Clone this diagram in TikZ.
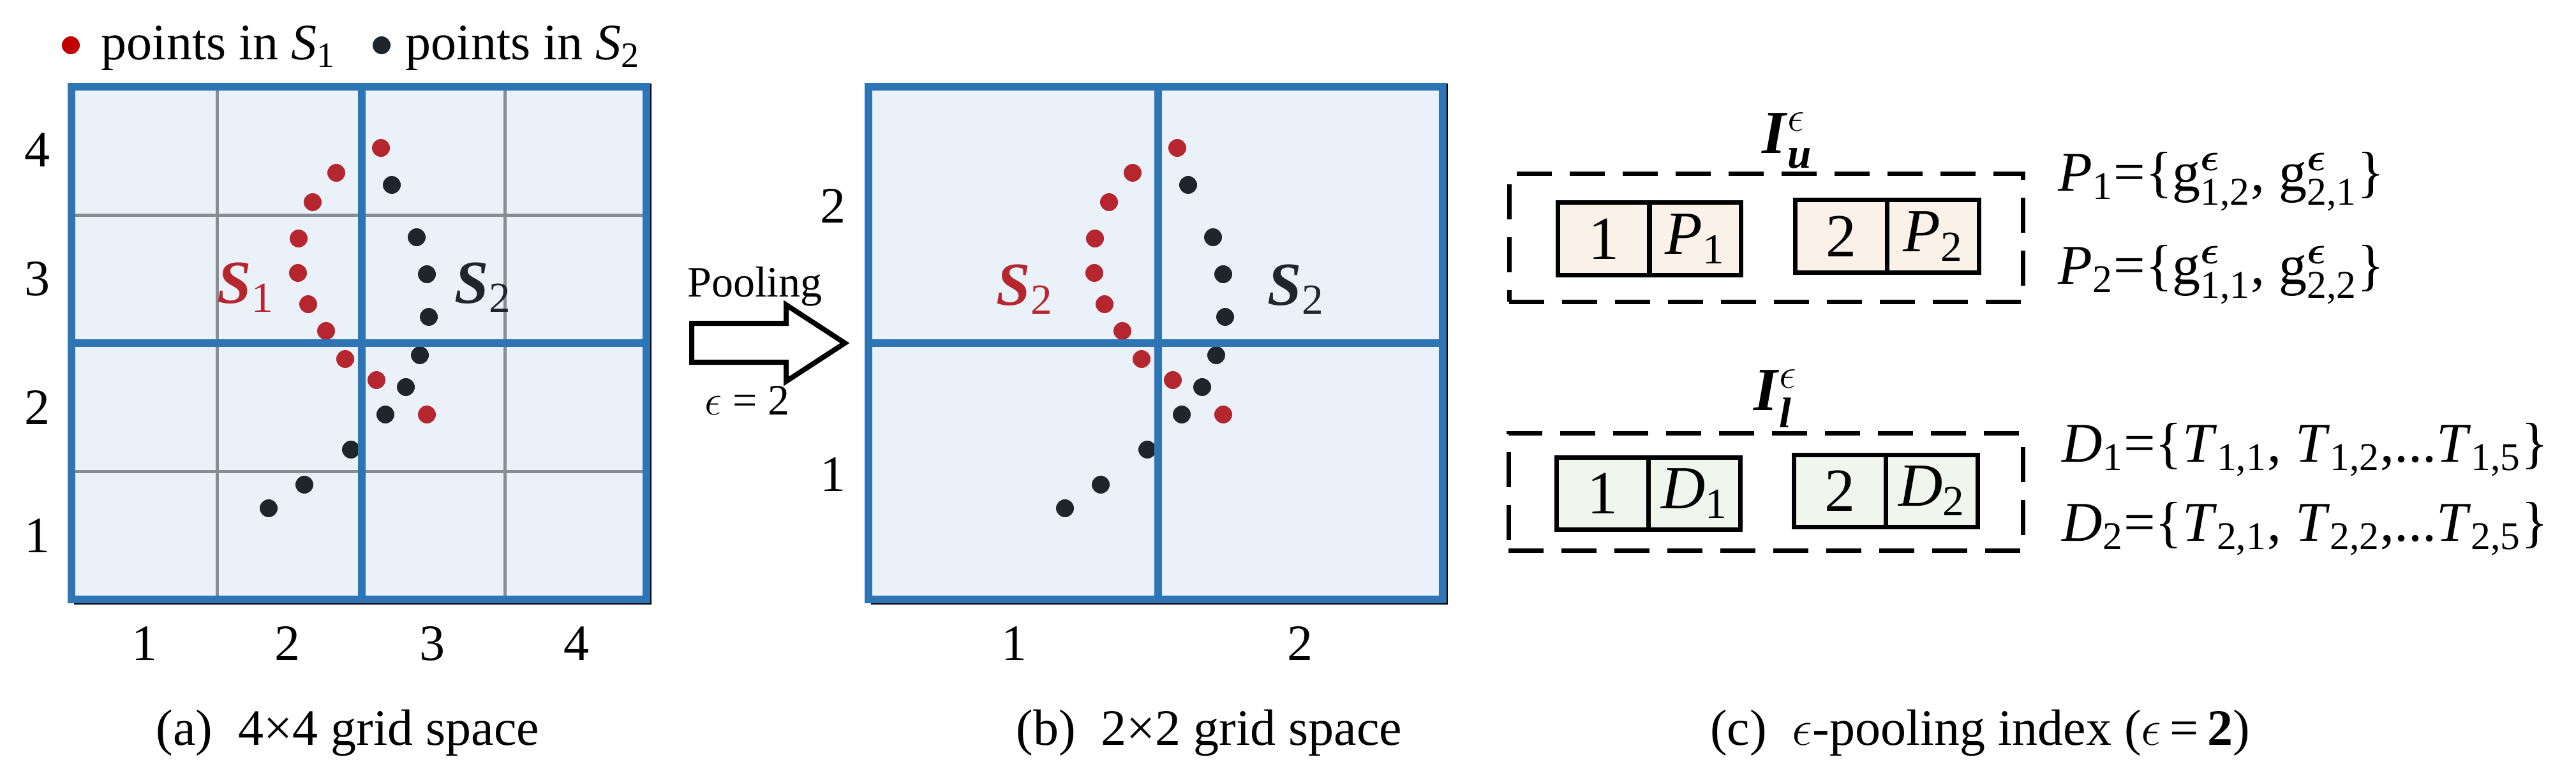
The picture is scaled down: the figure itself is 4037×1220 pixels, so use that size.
\RequirePackage{fix-cm}
\documentclass[tikz,border=0pt]{standalone}
\usepackage{amsmath}
\usepackage{fontspec}
\setmainfont{Liberation Serif}
\definecolor{gblue}{RGB}{46,117,182}
\definecolor{gfill}{RGB}{234,241,249}
\definecolor{ggray}{RGB}{135,141,148}
\definecolor{pred}{RGB}{181,38,46}
\definecolor{pblack}{RGB}{30,37,45}
\definecolor{lred}{RGB}{192,0,0}
\definecolor{peach}{RGB}{250,241,232}
\definecolor{mint}{RGB}{240,246,238}
\newcommand{\redpts}{597/232,527/271,490/317,468/374,467/428,483/477,511/519,541/563,590/596,669/650}
\newcommand{\blkpts}{614/290,653/372,669/430,672/497,658/557,636/607,604/650,550/705,477/760,421/797}
\newcommand{\epsb}{\boldsymbol{\epsilon}}
\begin{document}
\begin{tikzpicture}[x=0.25pt,y=-0.25pt,
  t20/.style={font=\fontsize{20}{24}\selectfont, inner sep=0pt},
  t17/.style={font=\fontsize{17}{20}\selectfont, inner sep=0pt},
  t22/.style={font=\fontsize{22}{26}\selectfont, inner sep=0pt},
  ttl/.style={font=\fontsize{24}{28}\selectfont, inner sep=0pt},
  slab/.style={font=\fontsize{24}{28}\selectfont\bfseries\itshape, inner sep=0pt},
  cellu/.style={draw, line width=1.75pt, fill=peach, minimum width=36pt, minimum height=28.25pt, inner sep=0pt, font=\fontsize{24}{28}\selectfont},
  celll/.style={cellu, fill=mint},
  dashbox/.style={draw, dash pattern=on 13.75pt off 7pt, line width=1.75pt, inner sep=0pt},
  bluegrid/.style={draw=gblue, line width=3pt},
  graygrid/.style={draw=ggray, line width=1.25pt},
  shadow/.style={draw=black, line width=0.5pt},
  bigarrow/.style={draw=black, line width=2pt, line join=miter, fill=white}
]
\useasboundingbox (0,0) rectangle (4037,1220);

% ---------- legend ----------
\fill[lred] (111,71) circle[radius=3.5pt];
\node[t20, anchor=base west] (leg1) at (158,94) {points in \textit{S}$_{\text{1}}$};
\fill[pblack] (598,71) circle[radius=3.5pt];
\node[t20, anchor=base west] (leg2) at (635,94) {points in \textit{S}$_{\text{2}}$};

% ---------- panel (a) ----------
\fill[gfill] (112,136) rectangle (1013,940);
\foreach \px/\py in \redpts {\fill[pred] (\px,\py) circle[radius=3.5pt];}
\foreach \px/\py in \blkpts {\fill[pblack] (\px,\py) circle[radius=3.5pt];}
\draw[graygrid] (340,136) -- (340,940) (791,136) -- (791,940) (112,337) -- (1013,337) (112,739) -- (1013,739);
\draw[bluegrid] (112,136) rectangle (1013,940) (567,136) -- (567,940) (112,538) -- (1013,538);
\draw[shadow] (116,947) -- (1020,947) -- (1020,131);

\node[slab, text=pred, anchor=base west] (s1a) at (340,475) {S$_{\text{\normalfont 1}}$};
\node[slab, text=pblack, anchor=base west] (s2a) at (712,475) {S$_{\text{\normalfont 2}}$};

\node[t20, anchor=base] (ra4) at (58,262) {4};
\node[t20, anchor=base] (ra3) at (58,463) {3};
\node[t20, anchor=base] (ra2) at (58,665) {2};
\node[t20, anchor=base] (ra1) at (58,866) {1};
\node[t20, anchor=base] (ca1) at (226,1035) {1};
\node[t20, anchor=base] (ca2) at (450,1035) {2};
\node[t20, anchor=base] (ca3) at (677,1035) {3};
\node[t20, anchor=base] (ca4) at (903,1035) {4};
\node[t20, anchor=base] (capa) at (545,1168) {(a)\hspace{0.5em}4×4 grid space};

% ---------- pooling arrow ----------
\draw[bigarrow] (1084,507) -- (1232,507) -- (1232,478) -- (1324,538) -- (1232,598) -- (1232,568) -- (1084,568) -- cycle;
\node[t17, anchor=base] (pool) at (1183,465) {Pooling};
\node[t17, anchor=base] (epsval) at (1171,650) {$\epsilon$ = 2};

% ---------- panel (b) ----------
\begin{scope}[shift={(1248,0)}]
\fill[gfill] (113,136) rectangle (1013,940);
\foreach \px/\py in \redpts {\fill[pred] (\px,\py) circle[radius=3.5pt];}
\foreach \px/\py in \blkpts {\fill[pblack] (\px,\py) circle[radius=3.5pt];}
\draw[bluegrid] (113,136) rectangle (1013,940) (567,136) -- (567,940) (113,538) -- (1013,538);
\draw[shadow] (117,947) -- (1020,947) -- (1020,131);
\end{scope}

\node[slab, text=pred, anchor=base west] (s2b) at (1561,478) {S$_{\text{\normalfont 2}}$};
\node[slab, text=pblack, anchor=base west] (s2c) at (1986,478) {S$_{\text{\normalfont 2}}$};

\node[t20, anchor=base] (rb2) at (1305,350) {2};
\node[t20, anchor=base] (rb1) at (1305,770) {1};
\node[t20, anchor=base] (cb1) at (1589,1035) {1};
\node[t20, anchor=base] (cb2) at (2037,1035) {2};
\node[t20, anchor=base] (capb) at (1895,1168) {(b)\hspace{0.5em}2×2 grid space};

% ---------- panel (c) ----------
\node[dashbox, minimum width=201.25pt, minimum height=50pt] (Iu) at (2767.5,373) {};
\node[dashbox, minimum width=201.5pt, minimum height=46pt] (Il) at (2767,771) {};

\node[ttl, anchor=base west] (Iut) at (2761,240) {\textbf{\textit{I}}$^{\epsilon}_{\text{\bfseries\itshape u}}$};
\node[ttl, anchor=base west] (Ilt) at (2748,643) {\textbf{\textit{I}}$^{\epsilon}_{\text{\bfseries\itshape l}}$};

\node[cellu, minimum width=35.9pt] (u1k) at (2513,374.5) {1};
\node[cellu, minimum width=35.9pt] (u1v) at (2657,374.5) {\textit{P}$_{\text{1}}$};
\node[cellu] (u2k) at (2885.5,370.5) {2};
\node[cellu] (u2v) at (3029.5,370.5) {\textit{P}$_{\text{2}}$};

\node[celll, minimum width=35.9pt] (l1k) at (2511.5,773.5) {1};
\node[celll, minimum width=35.9pt] (l1v) at (2655.5,773.5) {\textit{D}$_{\text{1}}$};
\node[celll] (l2k) at (2883.5,769.5) {2};
\node[celll] (l2v) at (3027.5,769.5) {\textit{D}$_{\text{2}}$};

\node[t22, anchor=base west] (p1def) at (3225,299) {\textit{P}$_{\text{1}}$=\{g$^{\epsb}_{\text{1,2}}$, g$^{\epsb}_{\text{2,1}}$\}};
\node[t22, anchor=base west] (p2def) at (3225,445) {\textit{P}$_{\text{2}}$=\{g$^{\epsb}_{\text{1,1}}$, g$^{\epsb}_{\text{2,2}}$\}};
\node[t22, anchor=base west] (d1def) at (3231,724) {\textit{D}$_{\text{1}}$=\{\textit{T}$_{\text{1,1}}$, \textit{T}$_{\text{1,2}}$,...\textit{T}$_{\text{1,5}}$\}};
\node[t22, anchor=base west] (d2def) at (3231,848) {\textit{D}$_{\text{2}}$=\{\textit{T}$_{\text{2,1}}$, \textit{T}$_{\text{2,2}}$,...\textit{T}$_{\text{2,5}}$\}};

\node[t20, anchor=base] (capc) at (3103,1168) {(c)\hspace{0.5em}$\epsilon$-pooling index ($\epsilon$\,=\,\textbf{2})};
\end{tikzpicture}
\end{document}
